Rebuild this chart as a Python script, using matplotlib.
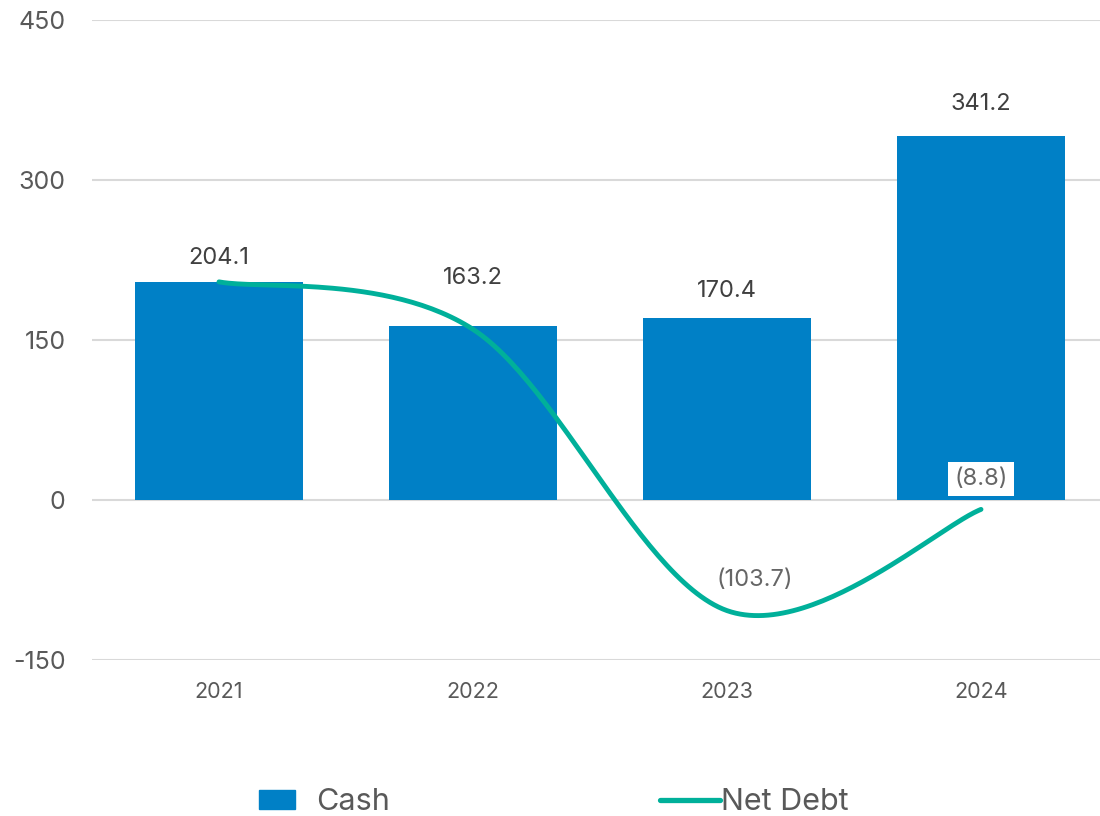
import numpy as np
import matplotlib
matplotlib.use("Agg")
import matplotlib.pyplot as plt
from matplotlib.patches import Patch
from matplotlib.lines import Line2D

years = ["2021", "2022", "2023", "2024"]
cash = [204.1, 163.2, 170.4, 341.2]
net_debt = [204.5, 160.0, -103.7, -8.8]
cash_labels = ["204.1", "163.2", "170.4", "341.2"]
net_debt_labels = ["", "", "(103.7)", "(8.8)"]
yticks = [-150, 0, 150, 300, 450]

BAR = "#0080C6"
LINE = "#00B09A"
plt.rcParams['font.family'] = ['Inter', 'DejaVu Sans']

fig = plt.figure(figsize=(11, 8.16), dpi=100)
ax = fig.add_axes([92/1100, 1-660/816, 1-92/1100, (660-20)/816])

x = np.arange(len(years))
ax.bar(x, cash, width=0.66, color=BAR, zorder=2)

# Excel-style smoothed line (Bezier through the data points)
def smooth(xs, ys, n=60):
    P = np.column_stack([xs, ys]).astype(float)
    out = []
    for i in range(len(P)-1):
        p0 = P[i-1] if i > 0 else P[i]
        p1, p2 = P[i], P[i+1]
        p3 = P[i+2] if i+2 < len(P) else P[i+1]
        c1 = p1 + (p2 - p0) / 6
        c2 = p2 - (p3 - p1) / 6
        t = np.linspace(0, 1, n)[:, None]
        seg = ((1-t)**3)*p1 + 3*((1-t)**2)*t*c1 + 3*(1-t)*t**2*c2 + t**3*p2
        out.append(seg if i == 0 else seg[1:])
    s = np.vstack(out)
    return s[:, 0], s[:, 1]

sx, sy = smooth(x, net_debt)
ax.plot(sx, sy, color=LINE, lw=3.5, solid_capstyle='round', zorder=3)

px = 72 / 100  # points per pixel
cash_off = [24, 48, 27, 32]
for xi, v, lab, o in zip(x, cash, cash_labels, cash_off):
    ax.annotate(lab, (xi, v), xytext=(0, o*px), textcoords='offset points',
                ha='center', va='center', fontsize=17, color='#404040')

offs = {2: (20, 22), 3: (0, 22)}
for i, lab in enumerate(net_debt_labels):
    if lab:
        dx, dy = offs[i]
        ax.annotate(lab, (x[i], net_debt[i]), xytext=(dx, dy), textcoords='offset points',
                    ha='center', va='center', fontsize=17, color='#666666', zorder=4,
                    bbox=dict(boxstyle='square,pad=0.25', fc='white', ec='none') if i == 3 else None)

ax.set_xlim(-0.5, (1100-219)/254)
ax.set_ylim(-150, 450)
ax.set_yticks(yticks)
ax.set_yticklabels([str(t) for t in yticks])
ax.set_xticks(x)
ax.set_xticklabels(years)
ax.tick_params(axis='y', length=0, pad=19, labelsize=18, labelcolor='#595959')
ax.tick_params(axis='x', length=0, pad=16, labelsize=15.5, labelcolor='#595959')
ax.grid(axis='y', color='#d9d9d9', lw=1.5, zorder=0)
ax.set_axisbelow(True)
for s in ax.spines.values():
    s.set_visible(False)

fs = 22
fpx = fs * 100 / 72
ly = 1 - 802/816
common = dict(loc='center left', frameon=False, fontsize=fs, labelcolor='#595959',
              borderpad=0, borderaxespad=0, handleheight=0.6)
fig.legend([Patch(color=BAR)], ["Cash"], bbox_to_anchor=(259/1100, ly),
           handlelength=36/fpx, handletextpad=21/fpx, **common)
fig.legend([Line2D([0], [0], color=LINE, lw=3.8, solid_capstyle='round')], ["Net Debt"],
           bbox_to_anchor=(660/1100, ly), handlelength=60/fpx, handletextpad=0.02, **common)

fig.savefig("out.png", dpi=100)
